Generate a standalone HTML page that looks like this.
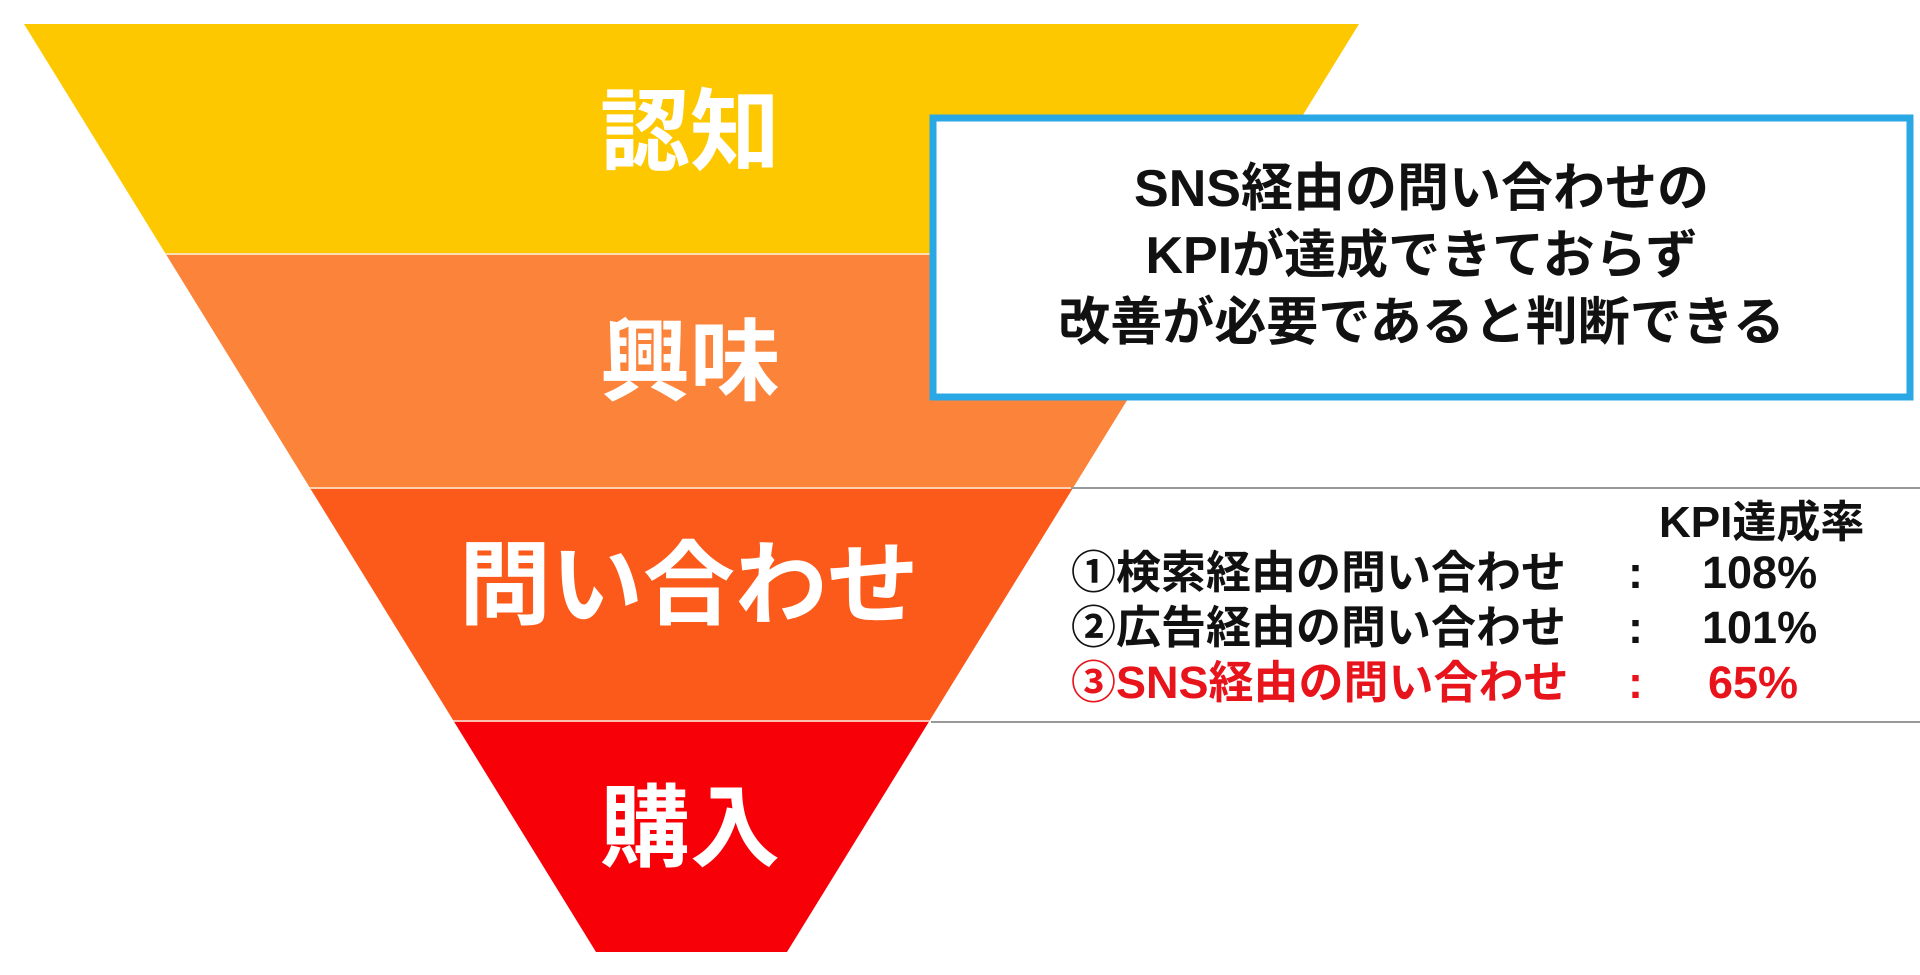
<!DOCTYPE html>
<html><head><meta charset="utf-8"><style>
body{margin:0;width:1920px;height:975px;background:#fff;overflow:hidden;position:relative;font-family:"Liberation Sans","Noto Sans CJK JP",sans-serif;}
.t{position:absolute;white-space:nowrap;font-weight:bold;line-height:1;}
</style></head><body>
<svg width="1920" height="975" style="position:absolute;left:0;top:0">
<defs><clipPath id="f"><polygon points="24,24 1359,24 787,952 596,952"/></clipPath></defs>
<g clip-path="url(#f)">
<rect x="0" y="22" width="1400" height="232" fill="#FDC800"/>
<rect x="0" y="254" width="1400" height="234" fill="#FB843A"/>
<rect x="0" y="488" width="1400" height="233" fill="#FC5A1A"/>
<rect x="0" y="721" width="1400" height="240" fill="#F80008"/>
<rect x="0" y="253" width="1400" height="2" fill="#fde0b0"/>
<rect x="0" y="487" width="1400" height="2" fill="#fdd0b0"/>
<rect x="0" y="720" width="1400" height="2" fill="#fdc0b0"/>
</g>
<line x1="1071" y1="488" x2="1920" y2="488" stroke="#999" stroke-width="2"/>
<line x1="931" y1="722" x2="1920" y2="722" stroke="#999" stroke-width="2"/>
<rect x="933" y="118" width="977" height="279" fill="#fff" stroke="#2AA8E6" stroke-width="7"/>
</svg>
<div class="t" style="left:600px;top:88px;font-size:90px;color:#fff">認知</div>
<div class="t" style="left:600px;top:318px;font-size:90px;color:#fff">興味</div>
<div class="t" style="left:459px;top:540px;font-size:92px;color:#fff">問い合わせ</div>
<div class="t" style="left:600px;top:784px;font-size:90px;color:#fff">購入</div>
<div class="t" style="left:933px;width:977px;text-align:center;top:156px;font-size:52px;line-height:67px;color:#111">SNS経由の問い合わせの<br>KPIが達成できておらず<br>改善が必要であると判断できる</div>
<div class="t" style="left:1659px;top:501px;font-size:44px;color:#111">KPI達成率</div>
<div class="t" style="left:1071px;top:550px;font-size:45px;color:#111">①検索経由の問い合わせ</div>
<div class="t" style="left:1071px;top:605px;font-size:45px;color:#111">②広告経由の問い合わせ</div>
<div class="t" style="left:1071px;top:660px;font-size:45px;color:#e8141c">③SNS経由の問い合わせ</div>
<div class="t" style="left:1628px;top:550px;font-size:45px;color:#111">:</div>
<div class="t" style="left:1628px;top:605px;font-size:45px;color:#111">:</div>
<div class="t" style="left:1628px;top:660px;font-size:45px;color:#e8141c">:</div>
<div class="t" style="left:1702px;top:550px;font-size:45px;color:#111">108%</div>
<div class="t" style="left:1702px;top:605px;font-size:45px;color:#111">101%</div>
<div class="t" style="left:1708px;top:660px;font-size:45px;color:#e8141c">65%</div>
</body></html>
